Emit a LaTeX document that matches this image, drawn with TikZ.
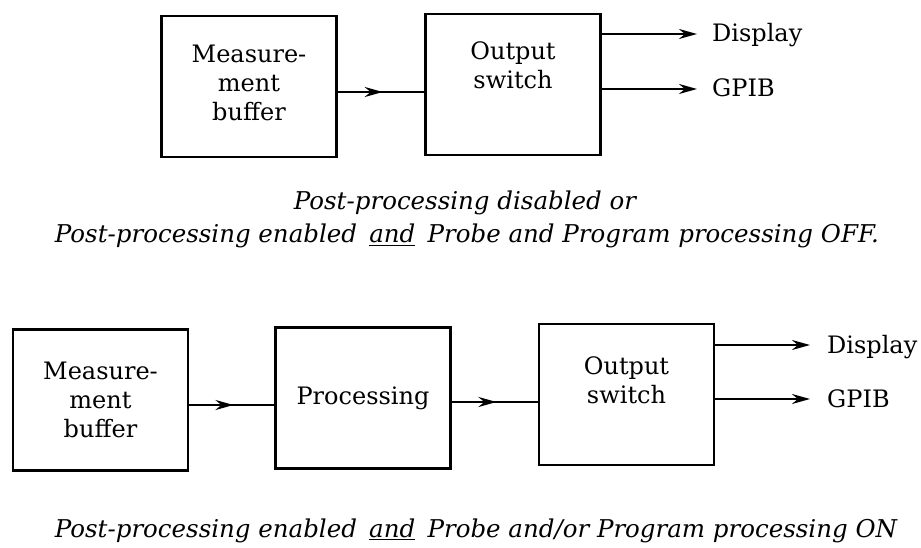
\documentclass[tikz,border=0pt]{standalone}
\usepackage{fontspec}
\setmainfont{DejaVu Serif}
\usetikzlibrary{arrows.meta,decorations.markings}
\begin{document}
\begin{tikzpicture}[x=1pt,y=-1pt,
  box/.style={draw,line width=2.2pt,minimum width=175pt,minimum height=141pt,inner sep=0pt},
  boxtext/.style={align=center,inner sep=0pt,font=\fontsize{24}{29}\selectfont},
  outlbl/.style={anchor=base west,inner sep=0pt,font=\fontsize{24}{29}\selectfont},
  captext/.style={anchor=base,inner sep=0pt,font=\itshape\fontsize{24.5}{30}\selectfont},
  conn/.style={line width=2.2pt},
  midarrow/.style={conn,decoration={markings,mark=at position 0.52 with {\arrow{Stealth[length=18pt,width=10pt]}}},postaction={decorate}},
  outarrow/.style={conn,-{Stealth[length=18pt,width=10pt]}}]
\useasboundingbox (0,0) rectangle (921,548);

% top row
\node[box] (mb1) at (249,86.5) {};
\node[boxtext] (mb1t) at (249,83) {Measure-\\ment\\buffer};
\node[box] (os1) at (513,84.5) {};
\node[boxtext] (os1t) at (513,65) {Output\\switch};
\coordinate (a1) at ([yshift=-5.5pt]mb1.east);
\draw[midarrow] (a1) -- (a1 -| os1.west);
\node[outlbl] (disp1) at (712,42) {Display};
\node[outlbl] (gpib1) at (712,97) {GPIB};
\coordinate (d1) at (697,34);
\coordinate (g1) at (697,89);
\draw[outarrow] (os1.east |- d1) -- (d1);
\draw[outarrow] (os1.east |- g1) -- (g1);
\node[captext] (c1a) at (465,210) {Post-processing disabled or};
\node[captext] (c1b) at (467,243) {Post-processing enabled\hspace{0.5em}\underline{and}\hspace{0.5em}Probe and Program processing OFF.};

% bottom row
\node[box] (mb2) at (100.5,400) {};
\node[boxtext] (mb2t) at (100.5,400) {Measure-\\ment\\buffer};
\node[box] (pr2) at (363,398) {};
\node[boxtext] (pr2t) at (363,398) {Processing};
\node[box] (os2) at (626.5,394.5) {};
\node[boxtext] (os2t) at (626.5,380) {Output\\switch};
\coordinate (a2) at ([yshift=-5pt]mb2.east);
\draw[midarrow] (a2) -- (a2 -| pr2.west);
\coordinate (a3) at ([yshift=-4pt]pr2.east);
\draw[midarrow] (a3) -- (a3 -| os2.west);
\node[outlbl] (disp2) at (827,353) {Display};
\node[outlbl] (gpib2) at (827,407) {GPIB};
\coordinate (d2) at (810,345);
\coordinate (g2) at (810,399);
\draw[outarrow] (os2.east |- d2) -- (d2);
\draw[outarrow] (os2.east |- g2) -- (g2);
\node[captext] (c2) at (476,537) {Post-processing enabled\hspace{0.5em}\underline{and}\hspace{0.5em}Probe and/or Program processing ON};
\end{tikzpicture}
\end{document}
